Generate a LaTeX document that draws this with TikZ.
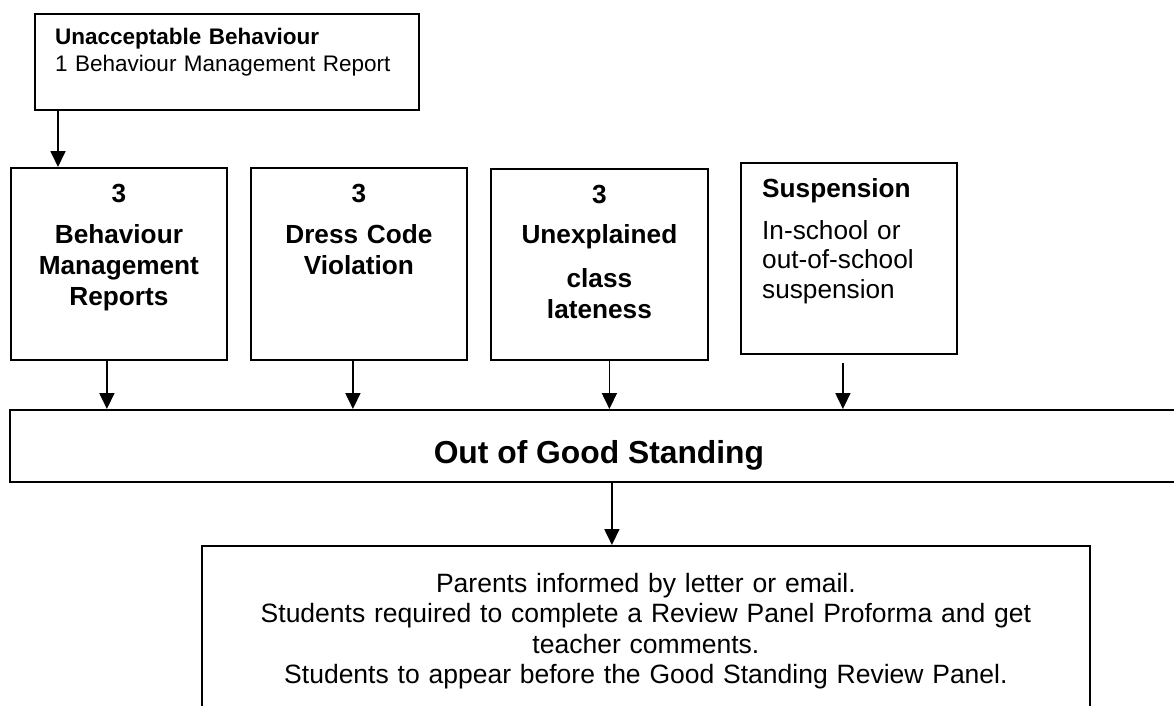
\documentclass[tikz,border=0pt]{standalone}
\usepackage{fontspec}
\setmainfont{Liberation Sans}
\usetikzlibrary{arrows.meta}

\begin{document}
\begin{tikzpicture}[x=1pt, y=-1pt,
    box/.style={draw, line width=1.8pt, inner sep=0pt, anchor=north west},
    boxtext/.style={font=\bfseries\fontsize{26.2}{31}\selectfont, text width=210pt, align=center, inner sep=0pt, anchor=base},
    sidetext/.style={font=\fontsize{26.2}{29.5}\selectfont, text width=190pt, align=left, inner sep=0pt, anchor=base west},
    arr/.style={-{Triangle[length=16pt, width=15pt]}, line width=1.8pt}]
    \clip (0,0) rectangle (1174,706);
    \node [box, minimum width=384pt, minimum height=96pt] (unacc) at (34,13) {};
    \node [box, minimum width=216pt, minimum height=192pt] (bmr) at (10,167) {};
    \node [box, minimum width=216pt, minimum height=192pt] (dress) at (250,167) {};
    \node [box, minimum width=217pt, minimum height=191pt] (late) at (490,168) {};
    \node [box, minimum width=216pt, minimum height=191pt] (susp) at (740,162) {};
    \node [box, minimum width=1178pt, minimum height=72pt] (oogs) at (9,409) {};
    \node [box, minimum width=888pt, minimum height=200pt] (panel) at (201,545) {};
    \node [font=\fontsize{22.5}{27}\selectfont, text width=360pt, align=left, inner sep=0pt, anchor=base west]
        (unacctxt) at ([xshift=21pt, yshift=-32pt]unacc.north west)
        {\textbf{Unacceptable Behaviour}\\1 Behaviour Management Report};
    \node [boxtext] (bmrtxt) at ([yshift=-35pt]bmr.north) {3\\[10pt]Behaviour\\Management\\Reports};
    \node [boxtext] (dresstxt) at ([yshift=-35pt]dress.north) {3\\[10pt]Dress Code\\Violation};
    \node [boxtext] (latetxt) at ([yshift=-35pt]late.north) {3\\[9pt]Unexplained\\[13pt]class\\lateness};
    \node [sidetext] (susptxt) at ([xshift=22pt, yshift=-35pt]susp.north west)
        {\textbf{Suspension}\\[12.5pt]In-school or\\out-of-school\\suspension};
    \node [font=\bfseries\fontsize{31.8}{36}\selectfont, inner sep=0pt, anchor=base] (oogstxt)
        at ([yshift=-54pt]oogs.north) {Out of Good Standing};
    \node [font=\fontsize{26.5}{30.5}\selectfont, text width=860pt, align=center, inner sep=0pt, anchor=base]
        (paneltxt) at ([yshift=-47pt]panel.north)
        {Parents informed by letter or email.\\Students required to complete a Review Panel Proforma and get\\teacher comments.\\Students to appear before the Good Standing Review Panel.};
    \draw [arr] ([xshift=24pt]unacc.south west) -- ([xshift=24pt]unacc.south west |- bmr.north);
    \foreach \b/\dx in {bmr/-12, dress/-6, late/10}
    \draw [arr] ([xshift=\dx pt]\b.south) -- ([xshift=\dx pt]\b.south |- oogs.north);
    \draw [arr] ([xshift=-6pt, yshift=-8pt]susp.south) -- ([xshift=-6pt]susp.south |- oogs.north);
    \draw [arr] ([xshift=-34pt]panel.north |- oogs.south) -- ([xshift=-34pt]panel.north);
\end{tikzpicture}
\end{document}
